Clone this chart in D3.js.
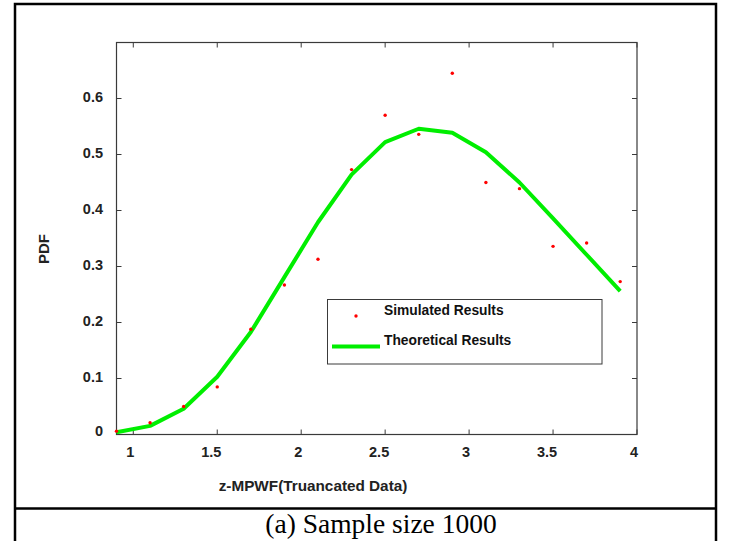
<!DOCTYPE html>
<html><head><meta charset="utf-8">
<script src="https://cdn.jsdelivr.net/npm/d3@7"></script>
<style>
html,body{margin:0;padding:0;background:#fff;}
svg{display:block;}
text{font-family:"Liberation Sans",Arial,sans-serif;}
</style></head>
<body>
<svg id="chart" width="731" height="541"></svg>
<script>
const xValues = [0.9, 1.1, 1.3, 1.5, 1.7, 1.9, 2.1, 2.3, 2.5, 2.7, 2.9, 3.1, 3.3, 3.5, 3.7, 3.9];
const simulated = [0.006, 0.021, 0.05, 0.085, 0.188, 0.267, 0.313, 0.473, 0.570, 0.536, 0.645, 0.450, 0.439, 0.336, 0.342, 0.273];
const theoretical = [0.004, 0.0154, 0.046, 0.103, 0.183, 0.281, 0.379, 0.464, 0.522, 0.546, 0.539, 0.504, 0.450, 0.386, 0.321, 0.256];
const xTicks = [1, 1.5, 2, 2.5, 3, 3.5, 4];
const xTickLabels = ["1", "1.5", "2", "2.5", "3", "3.5", "4"];
const yTicks = [0, 0.1, 0.2, 0.3, 0.4, 0.5, 0.6];
const yTickLabels = ["0", "0.1", "0.2", "0.3", "0.4", "0.5", "0.6"];
const seriesNames = ["Simulated Results", "Theoretical Results"];
const xTitle = "z-MPWF(Truancated Data)";
const yTitle = "PDF";
const caption = "(a) Sample size 1000";

const svg = d3.select("#chart");
const L = 116.5, R = 637, T = 42.5, B = 434.5;
const x = d3.scaleLinear().domain([0.9, 4]).range([L, R]);
const y = d3.scaleLinear().domain([0, 0.7]).range([B, T]);

// outer frame
svg.append("rect").attr("x", 15).attr("y", 4).attr("width", 701).attr("height", 560)
  .attr("fill", "none").attr("stroke", "#000").attr("stroke-width", 2.5);
svg.append("line").attr("x1", 15).attr("x2", 716).attr("y1", 508.5).attr("y2", 508.5)
  .attr("stroke", "#000").attr("stroke-width", 2.5);

// axes box
const axisColor = "#3a3a3a";
svg.append("rect").attr("x", L).attr("y", T).attr("width", R - L).attr("height", B - T)
  .attr("fill", "none").attr("stroke", axisColor).attr("stroke-width", 1.2);

const tickLen = 5;
const fs = 14.5;
const gx = svg.append("g");
xTicks.forEach((t, i) => {
  gx.append("line").attr("x1", x(t)).attr("x2", x(t)).attr("y1", B).attr("y2", B - tickLen).attr("stroke", axisColor);
  gx.append("line").attr("x1", x(t)).attr("x2", x(t)).attr("y1", T).attr("y2", T + tickLen).attr("stroke", axisColor);
  const dx = xTickLabels[i].length > 1 ? -6 : -3;
  gx.append("text").attr("x", x(t) + dx).attr("y", 457).attr("text-anchor", "middle")
    .attr("font-size", fs).attr("font-weight", "bold").attr("fill", "#222").text(xTickLabels[i]);
});
const gy = svg.append("g");
yTicks.forEach((t, i) => {
  gy.append("line").attr("x1", L).attr("x2", L + tickLen).attr("y1", y(t)).attr("y2", y(t)).attr("stroke", axisColor);
  gy.append("line").attr("x1", R).attr("x2", R - tickLen).attr("y1", y(t)).attr("y2", y(t)).attr("stroke", axisColor);
  gy.append("text").attr("x", 103).attr("y", y(t) + (t === 0 ? 1 : 3)).attr("text-anchor", "end")
    .attr("font-size", fs).attr("font-weight", "bold").attr("fill", "#222").text(yTickLabels[i]);
});

// theoretical line
const data = xValues.map((v, i) => ({x: v, s: simulated[i], t: theoretical[i]}));
svg.append("path").datum(data)
  .attr("d", d3.line().x(d => x(d.x)).y(d => y(d.t)))
  .attr("fill", "none").attr("stroke", "#00ee00").attr("stroke-width", 4).attr("stroke-linejoin", "round");

// simulated points
svg.append("g").selectAll("circle").data(data).join("circle")
  .attr("cx", d => x(d.x)).attr("cy", d => y(d.s)).attr("r", 1.7).attr("fill", "#ff0000");

// legend
const lg = svg.append("g");
lg.append("rect").attr("x", 327.5).attr("y", 299.5).attr("width", 274.5).attr("height", 64.5)
  .attr("fill", "#fff").attr("stroke", axisColor).attr("stroke-width", 1);
lg.append("circle").attr("cx", 356).attr("cy", 316).attr("r", 1.7).attr("fill", "#ff0000");
lg.append("line").attr("x1", 332).attr("x2", 380).attr("y1", 346.5).attr("y2", 346.5)
  .attr("stroke", "#00ee00").attr("stroke-width", 4);
lg.append("text").attr("x", 384).attr("y", 315).attr("font-size", 13.8).attr("font-weight", "bold").attr("fill", "#111").text(seriesNames[0]);
lg.append("text").attr("x", 384).attr("y", 345).attr("font-size", 13.8).attr("font-weight", "bold").attr("fill", "#111").text(seriesNames[1]);

// axis titles
svg.append("text").attr("x", 313).attr("y", 491).attr("text-anchor", "middle")
  .attr("font-size", 15.3).attr("font-weight", "bold").attr("fill", "#222").text(xTitle);
svg.append("text").attr("transform", "translate(49,249) rotate(-90)").attr("text-anchor", "middle")
  .attr("font-size", 15).attr("font-weight", "bold").attr("fill", "#222").text(yTitle);

// caption
svg.append("text").attr("x", 381).attr("y", 533).attr("text-anchor", "middle")
  .style("font-family", "'Liberation Serif','Times New Roman',serif")
  .attr("font-size", 27.5).attr("fill", "#000").text(caption);
</script>
</body></html>
